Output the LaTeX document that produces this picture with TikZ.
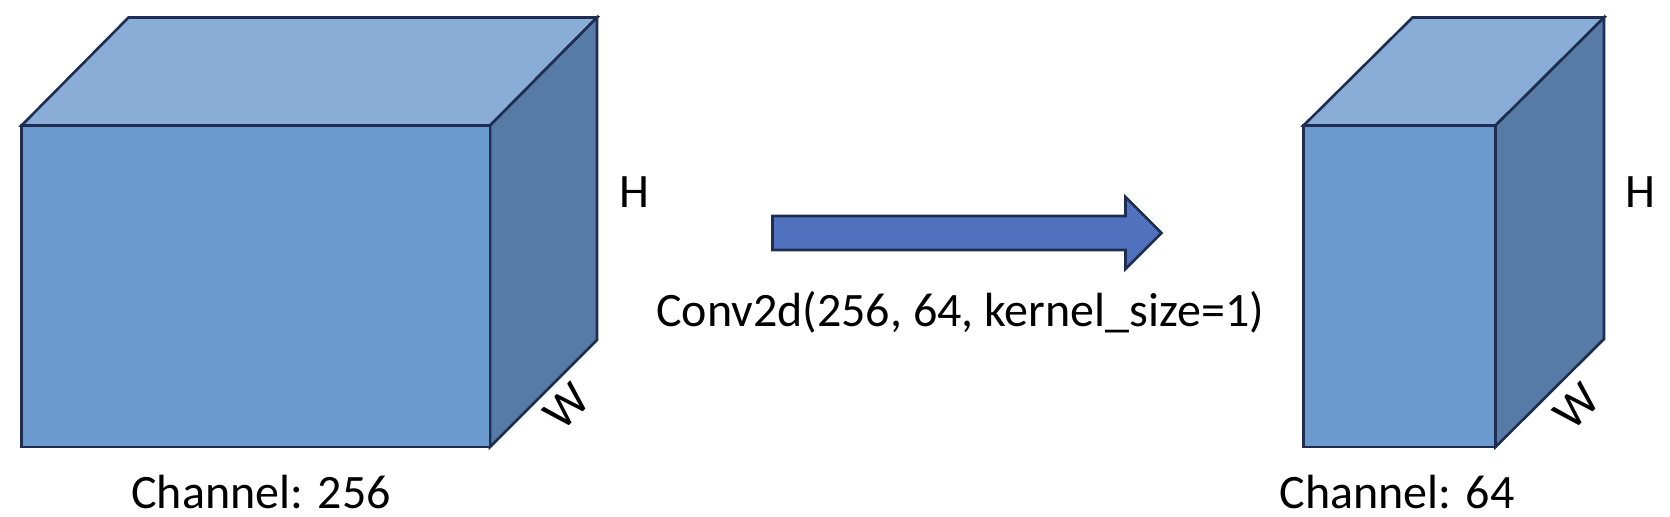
\documentclass[tikz,border=0pt]{standalone}
\usepackage{fontspec}
\setmainfont{Carlito}
\usetikzlibrary{positioning}
\definecolor{cubefront}{HTML}{6A9ACE}
\definecolor{cubetop}{HTML}{8AADD8}
\definecolor{cubeside}{HTML}{557BA6}
\definecolor{cubeedge}{HTML}{1F2D50}
\definecolor{convarrow}{HTML}{5072BE}

\begin{document}
\begin{tikzpicture}[x=0.5pt, y=-0.5pt,
  face/.style={draw=cubeedge, line width=1.3pt, line join=miter},
  dimlabel/.style={font=\fontsize{24}{28}\selectfont, inner sep=0pt},
  caption/.style={font=\fontsize{24}{28}\selectfont, inner sep=0pt}
]
\useasboundingbox (0,0) rectangle (1670,516);
% input block, 256 channels
\path[face, fill=cubetop] (21.5,125.5) -- (128.5,17.5) -- (597,17.5) -- (490,125.5) -- cycle;
\path[face, fill=cubeside] (490,125.5) -- (597,17.5) -- (597,340) -- (490,447) -- cycle;
\path[face, fill=cubefront] (21.5,125.5) rectangle (490,447);
\node[dimlabel] (hin) at (634,192) {H};
\node[dimlabel, rotate=45] (win) at (566.5,406.5) {W};
\node[caption] (cin) at (261,492) {Channel: 256};
% 1x1 conv
\path[face, fill=convarrow] (772.5,216) -- (1125.5,216) -- (1125.5,197) -- (1161.5,233)
  -- (1125.5,269) -- (1125.5,250) -- (772.5,250) -- cycle;
\node[caption] (conv) at (960,312) {Conv2d(256, 64, kernel\_size=1)};
% output block, 64 channels
\path[face, fill=cubetop] (1303.5,125.5) -- (1412.5,17.5) -- (1604,17.5) -- (1495.5,125.5) -- cycle;
\path[face, fill=cubeside] (1495.5,125.5) -- (1604,17.5) -- (1604,339) -- (1495.5,447) -- cycle;
\path[face, fill=cubefront] (1303.5,125.5) rectangle (1495.5,447);
\node[dimlabel] (hout) at (1640,192) {H};
\node[dimlabel, rotate=45] (wout) at (1576.5,406.5) {W};
\node[caption] (cout) at (1397,492) {Channel: 64};
\end{tikzpicture}
\end{document}
